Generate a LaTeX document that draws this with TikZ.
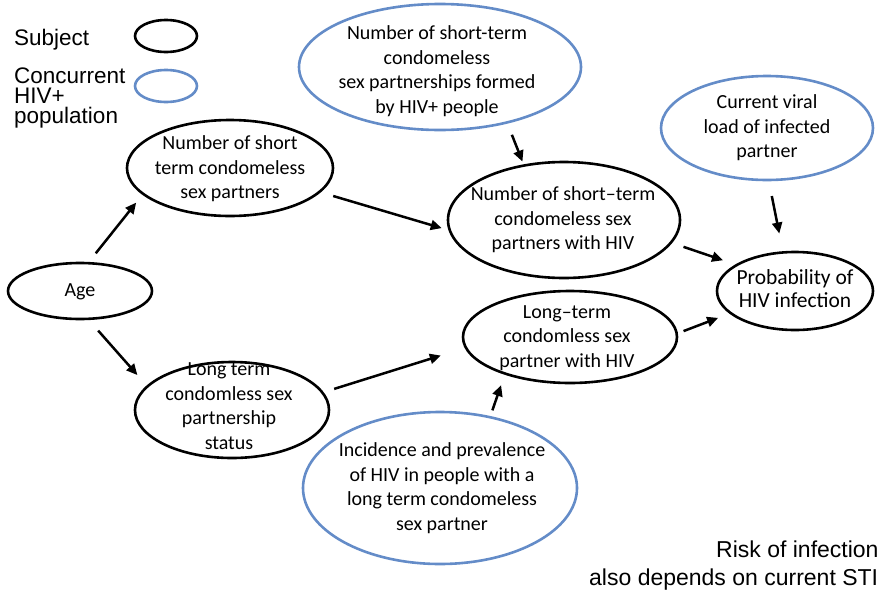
\documentclass[tikz,border=0pt]{standalone}
\usepackage{fontspec}
\setmainfont{Carlito}
\newfontfamily\arialf{Liberation Sans}
\usetikzlibrary{shapes.geometric,arrows.meta}
\definecolor{hivblue}{RGB}{100,140,200}
\begin{document}
\begin{tikzpicture}[x=1pt,y=-1pt,
  subj/.style={ellipse,draw=black,line width=2.6pt,inner sep=0pt},
  popu/.style={ellipse,draw=hivblue,line width=2.6pt,inner sep=0pt},
  txt/.style={align=center,font=\fontsize{20}{24.5}\selectfont,inner sep=0pt},
  lgd/.style={font=\arialf\fontsize{22.5}{20}\selectfont,inner sep=0pt,align=left},
  note/.style={font=\arialf\fontsize{23}{26}\selectfont,inner sep=0pt},
  arr/.style={line width=2.5pt,-{Triangle[length=11pt,width=10pt]}}]
\useasboundingbox (0,0) rectangle (878,592);
% legend
\node[lgd,anchor=north west] (subjT) at (14,29) {Subject};
\node[lgd,anchor=north west] (concT) at (14,68) {Concurrent\\HIV+\\population};
\node[subj,minimum width=62pt,minimum height=32pt] (lgs) at (166,36) {};
\node[popu,minimum width=62pt,minimum height=32pt] (lgp) at (166,86) {};
% ellipses
\node[subj,minimum width=144pt,minimum height=56pt] (age) at (80,291) {};
\node[txt] (ageT) at (80,292) {Age};
\node[subj,minimum width=206pt,minimum height=96pt] (st) at (230,168) {};
\node[txt] (stT) at (230,169) {Number of short\\term condomeless\\sex partners};
\node[subj,minimum width=194pt,minimum height=96pt] (lts) at (232,410) {};
\node[txt] (ltsT) at (229,406) {Long term\\condomless sex\\partnership\\status};
\node[popu,minimum width=282pt,minimum height=126pt] (bt) at (440,67) {};
\node[txt] (btT) at (437,71) {Number of short-term\\condomeless\\sex partnerships formed\\by HIV+ people};
\node[subj,minimum width=232pt,minimum height=116pt] (hst) at (564,220) {};
\node[txt] (hstT) at (563,220) {Number of short–term\\condomeless sex\\partners with HIV};
\node[subj,minimum width=214pt,minimum height=92pt] (lth) at (570,337) {};
\node[txt] (lthT) at (567,338) {Long–term\\condomless sex\\partner with HIV};
\node[popu,minimum width=274pt,minimum height=152pt] (bb) at (440,488) {};
\node[txt] (bbT) at (442,488) {Incidence and prevalence\\of HIV in people with a\\long term condomeless\\sex partner};
\node[popu,minimum width=212pt,minimum height=104pt] (vl) at (767,128) {};
\node[txt] (vlT) at (767,128) {Current viral\\load of infected\\partner};
\node[subj,minimum width=156pt,minimum height=78pt] (pr) at (795,291) {};
\node[txt,font=\fontsize{21.5}{23}\selectfont] (prT) at (795,289) {Probability of\\HIV infection};
% note
\node[note,anchor=base west] (n1) at (716,557) {Risk of infection};
\node[note,anchor=base west] (n2) at (589,585) {also depends on current STI};
% arrows
\draw[arr,shorten <=11pt,shorten >=10pt] (age.73) -- (st.197.5);
\draw[arr,shorten <=14pt,shorten >=14pt] (age.287) -- (lts.164.7);
\draw[arr,shorten <=13pt,shorten >=7pt] (st.345) -- (hst.185.7);
\draw[arr,shorten <=11pt,shorten >=25pt] (lts.11.2) -- (lth.186.7);
\draw[arr,shorten <=12pt,shorten >=3pt] (bt.320) -- (hst.126);
\draw[arr,shorten <=12pt,shorten >=13pt] (hst.348) -- (pr.156);
\draw[arr,shorten <=6pt,shorten >=12pt] (lth.2) -- (pr.199.8);
\draw[arr,shorten <=15pt,shorten >=18pt] (vl.272.6) -- (pr.107.8);
\draw[arr,shorten <=6pt,shorten >=11pt] (bb.55) -- (lth.210);
\end{tikzpicture}
\end{document}
